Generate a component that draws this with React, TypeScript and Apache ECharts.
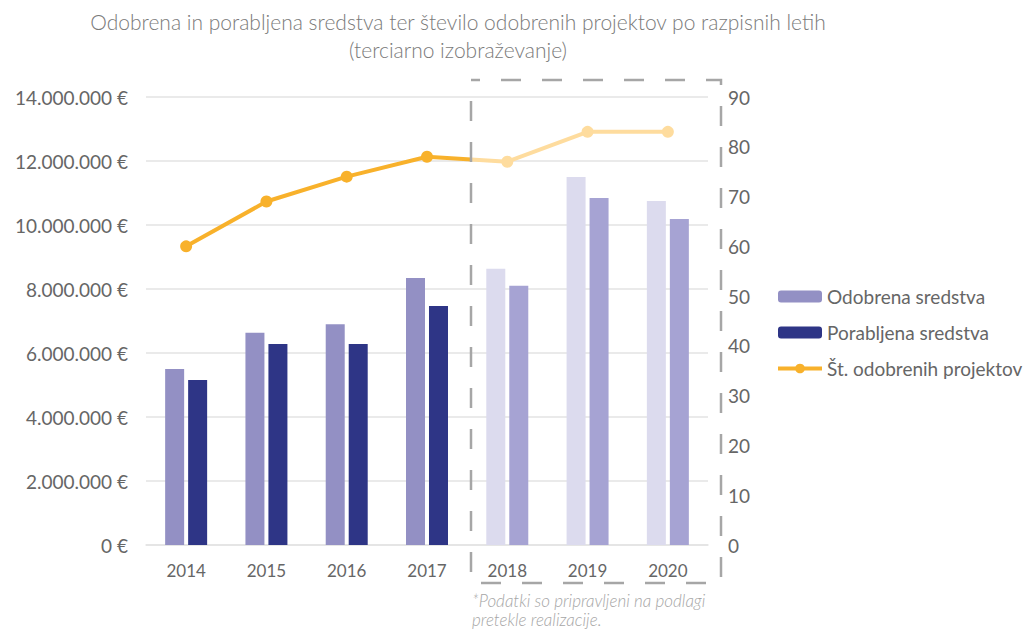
import React, { useEffect, useRef } from "react";
import * as echarts from "echarts";

const years = ["2014", "2015", "2016", "2017", "2018", "2019", "2020"];
const approved = [5500000, 6630000, 6900000, 8340000, 8630000, 11500000, 10750000];
const spent = [5160000, 6280000, 6280000, 7470000, 8100000, 10840000, 10190000];
const projects = [60, 69, 74, 78, 77, 83, 83];
const estimatedFrom = 4; // index of the first year with estimated data

const titleText = "Odobrena in porabljena sredstva ter število odobrenih projektov po razpisnih letih\n(terciarno izobraževanje)";
const noteText = "*Podatki so pripravljeni na podlagi\npretekle realizacije.";

const C_APPROVED = "#9390C4";
const C_SPENT = "#2E3586";
const C_APPROVED_L = "#DCDBEE";
const C_SPENT_L = "#A6A3D3";
const C_LINE = "#F8B12B";
const C_LINE_L = "#FEDC9E";
const C_TEXT = "#666666";

const GRID_L = 146;
const GRID_R = 708;
const BOX_X = 471;

const fmtEur = (v: number) =>
  String(Math.round(v)).replace(/\B(?=(\d{3})+(?!\d))/g, ".") + " €";

export default function App() {
  const ref = useRef<HTMLDivElement>(null);
  useEffect(() => {
    document.body.style.margin = "0";
    const chart = echarts.init(ref.current!, null, { renderer: "svg" });
    const font = "Lato";
    const split = (BOX_X - GRID_L) / (GRID_R - GRID_L);
    chart.setOption({
      animation: false,
      textStyle: { fontFamily: font },
      grid: { left: GRID_L, right: 1032 - GRID_R, top: 97, bottom: 85 },
      legend: {
        orient: "vertical",
        left: 771,
        top: 282,
        itemWidth: 44,
        itemHeight: 12,
        itemGap: 17,
        textStyle: { fontSize: 19, color: C_TEXT, fontFamily: font },
        data: [
          { name: "Odobrena sredstva" },
          { name: "Porabljena sredstva" },
          {
            name: "Št. odobrenih projektov",
            itemStyle: { color: C_LINE },
            lineStyle: { color: C_LINE, width: 4 },
          },
        ],
      },
      xAxis: {
        type: "category",
        data: years,
        axisTick: { show: false },
        axisLine: { lineStyle: { color: "#E3E3E3", width: 1.5 } },
        axisLabel: { color: C_TEXT, fontSize: 17, margin: 17 },
      },
      yAxis: [
        {
          type: "value",
          min: 0,
          max: 14000000,
          interval: 2000000,
          axisLabel: { color: C_TEXT, fontSize: 19, margin: 18, formatter: fmtEur },
          splitLine: { lineStyle: { color: "#E3E3E3", width: 1.5 } },
          axisLine: { show: false },
          axisTick: { show: false },
        },
        {
          type: "value",
          min: 0,
          max: 90,
          interval: 10,
          position: "right",
          axisLabel: { color: C_TEXT, fontSize: 19, margin: 20 },
          splitLine: { show: false },
          axisLine: { show: false },
          axisTick: { show: false },
        },
      ],
      series: [
        {
          name: "Odobrena sredstva",
          type: "bar",
          barWidth: 19,
          barGap: "21%",
          itemStyle: { color: C_APPROVED },
          data: approved.map((v, i) => ({
            value: v,
            itemStyle: { color: i >= estimatedFrom ? C_APPROVED_L : C_APPROVED },
          })),
        },
        {
          name: "Porabljena sredstva",
          type: "bar",
          barWidth: 19,
          barGap: "21%",
          itemStyle: { color: C_SPENT },
          data: spent.map((v, i) => ({
            value: v,
            itemStyle: { color: i >= estimatedFrom ? C_SPENT_L : C_SPENT },
          })),
        },
        {
          name: "Št. odobrenih projektov",
          type: "line",
          yAxisIndex: 1,
          symbol: "circle",
          symbolSize: 12,
          lineStyle: {
            width: 4,
            color: {
              type: "linear",
              x: GRID_L,
              y: 0,
              x2: GRID_R,
              y2: 0,
              global: true,
              colorStops: [
                { offset: 0, color: C_LINE },
                { offset: split, color: C_LINE },
                { offset: split, color: C_LINE_L },
                { offset: 1, color: C_LINE_L },
              ],
            },
          },
          itemStyle: { color: C_LINE },
          data: projects.map((v, i) => ({
            value: v,
            itemStyle: { color: i >= estimatedFrom ? C_LINE_L : C_LINE },
          })),
          z: 5,
        },
      ],
      graphic: [
        {
          type: "text",
          x: 458,
          y: 7,
          style: {
            text: titleText,
            fill: "#7A7A7A",
            fontSize: 21,
            fontWeight: 300,
            fontFamily: font,
            align: "center",
            lineHeight: 28,
          },
        },
        {
          type: "rect",
          shape: { x: BOX_X, y: 80, width: 250, height: 503 },
          style: {
            fill: "none",
            stroke: "#A6A6A6",
            lineWidth: 2.5,
            lineDash: [20, 21],
            lineDashOffset: 11,
          },
          z: 10,
        },
        {
          type: "text",
          x: 472,
          y: 591,
          style: {
            text: noteText,
            fill: "#A6A6A6",
            fontSize: 17,
            fontStyle: "italic",
            fontWeight: 300,
            fontFamily: font,
            lineHeight: 19,
          },
        },
      ],
    });
    return () => chart.dispose();
  }, []);
  return <div ref={ref} style={{ width: 1032, height: 630 }} />;
}
